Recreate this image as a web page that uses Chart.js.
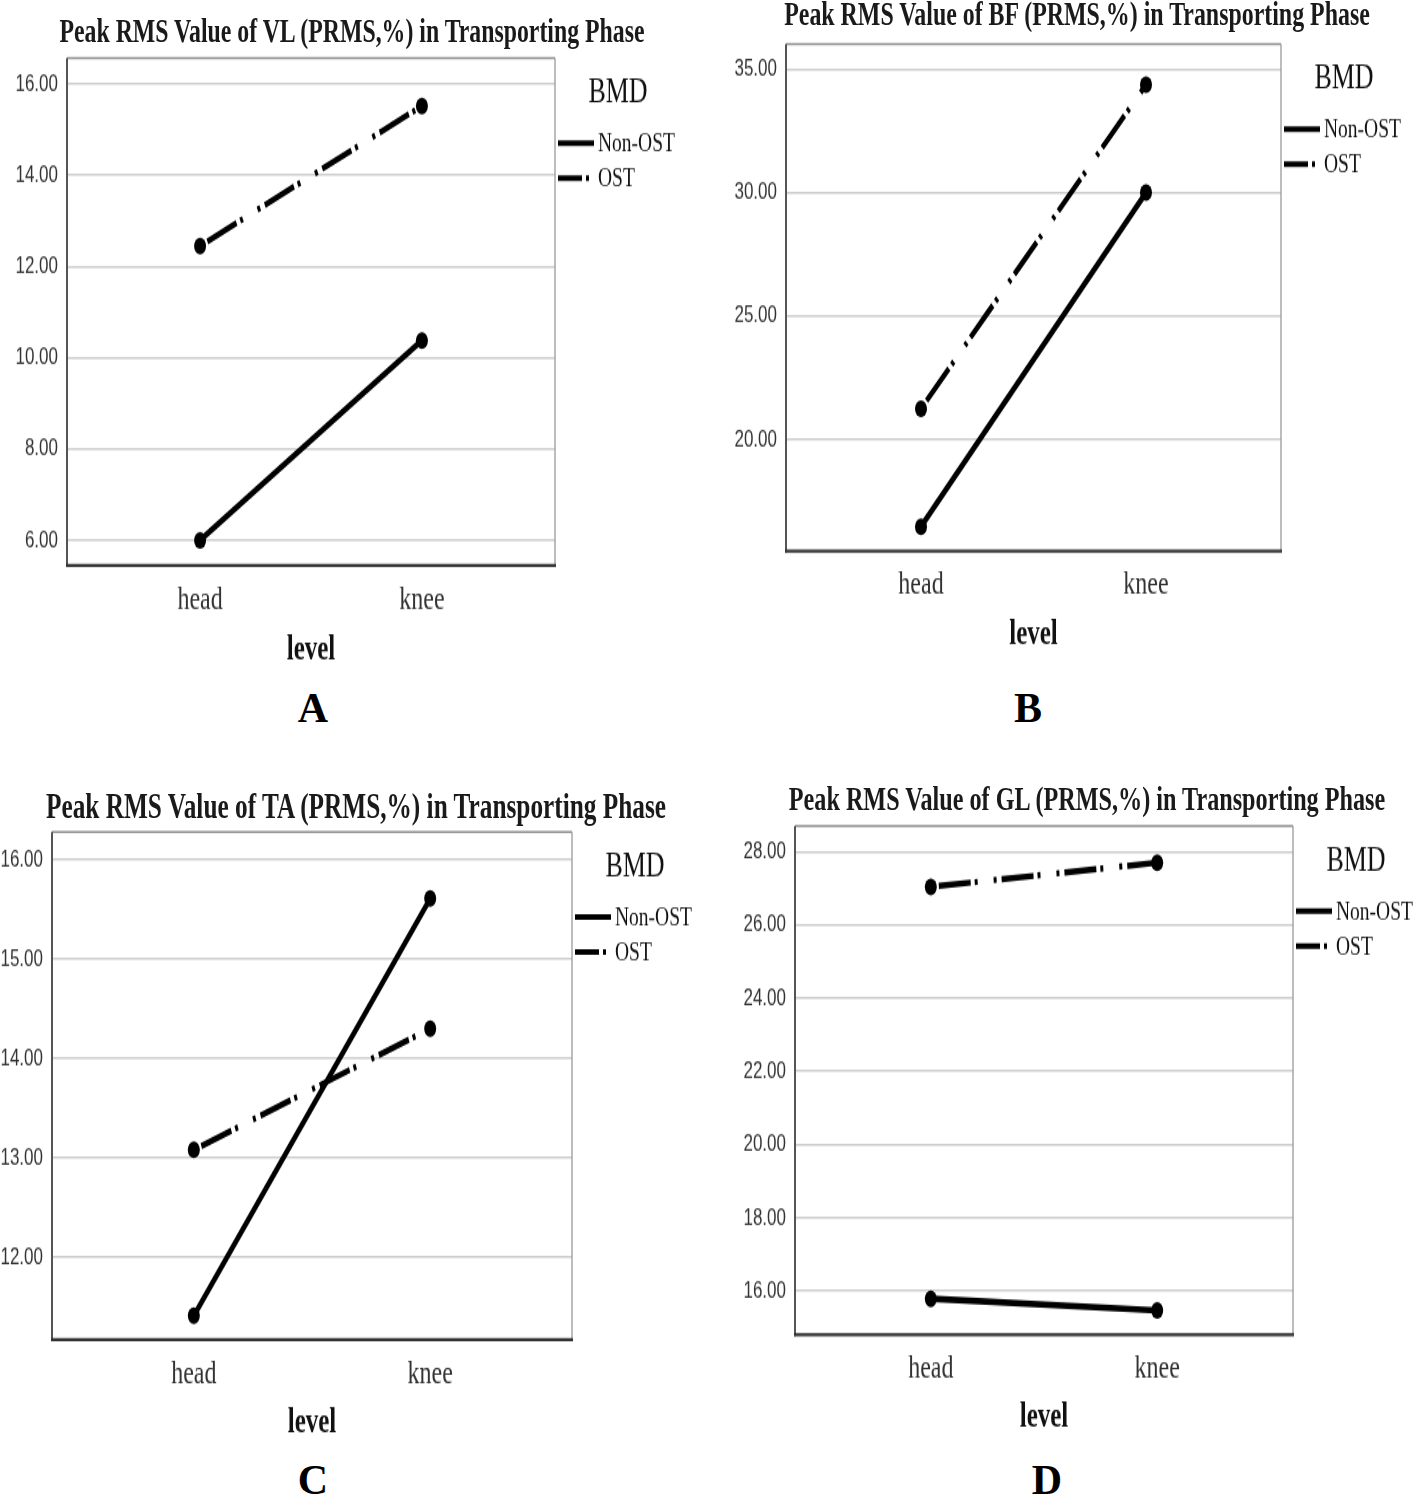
<!DOCTYPE html>
<html>
<head>
<meta charset="utf-8">
<script src="https://cdn.jsdelivr.net/npm/chart.js@4.4.0/dist/chart.umd.min.js"></script>
<style>
  body { margin: 0; background: #fff; }
  #page { position: relative; width: 1416px; height: 1500px; overflow: hidden; background: #fff; }
  .panel { position: absolute; transform-origin: 0 0; }
  .panel canvas { position: absolute; left: 0; top: 0; }
  .ttl { position: absolute; white-space: nowrap; font-family: 'Liberation Serif', serif; font-weight: bold; color: #1a1a1a; transform: translate(-50%, -50%); line-height: 1; }
  .letter { position: absolute; font-family: 'Liberation Serif', serif; font-weight: bold; font-size: 42px; color: #000; transform: translate(-50%, -50%); line-height: 1; }
</style>
</head>
<body>
<div id="page"></div>
<script>
// --- DATA ---
const levels = ['head', 'knee'];
const groups = ['Non-OST', 'OST'];

const vlNonOst = [6.00, 10.38];
const vlOst = [12.45, 15.52];
const vlTicks = [6, 8, 10, 12, 14, 16];

const bfNonOst = [16.46, 30.01];
const bfOst = [21.24, 34.39];
const bfTicks = [20, 25, 30, 35];

const taNonOst = [11.41, 15.61];
const taOst = [13.08, 14.30];
const taTicks = [12, 13, 14, 15, 16];

const glNonOst = [15.79, 15.47];
const glOst = [27.04, 27.70];
const glTicks = [16, 18, 20, 22, 24, 26, 28];

// the SPSS output is stretched vertically, so each panel is drawn flat and scaled in Y
const S = 1.4;

// --- LAYOUT (page pixels) ---
const panels = [
  { letter: 'A', title: 'Peak RMS Value of VL (PRMS,%) in Transporting Phase', nonOst: vlNonOst, ost: vlOst, ticks: vlTicks, yMin: 5.45, yMax: 16.57,
    box: { x: 0, y: 0, w: 700, h: 680 }, frame: { l: 67, t: 58, r: 555, b: 565 }, titleAt: [352, 32, 23.8], tickY: 600, levelY: 650, letterAt: [313, 708] },
  { letter: 'B', title: 'Peak RMS Value of BF (PRMS,%) in Transporting Phase', nonOst: bfNonOst, ost: bfOst, ticks: bfTicks, yMin: 15.47, yMax: 36.04,
    box: { x: 708, y: 0, w: 708, h: 665 }, frame: { l: 786, t: 44, r: 1281, b: 551 }, titleAt: [1077, 16, 23.9], tickY: 585, levelY: 635, letterAt: [1028, 708] },
  { letter: 'C', title: 'Peak RMS Value of TA (PRMS,%) in Transporting Phase', nonOst: taNonOst, ost: taOst, ticks: taTicks, yMin: 11.17, yMax: 16.28,
    box: { x: 0, y: 770, w: 708, h: 685 }, frame: { l: 52, t: 832, r: 572, b: 1340 }, titleAt: [356, 806, 25.3], tickY: 1375, levelY: 1424, letterAt: [313, 1480] },
  { letter: 'D', title: 'Peak RMS Value of GL (PRMS,%) in Transporting Phase', nonOst: glNonOst, ost: glOst, ticks: glTicks, yMin: 14.81, yMax: 28.70,
    box: { x: 708, y: 770, w: 708, h: 677 }, frame: { l: 795, t: 826, r: 1293, b: 1334 }, titleAt: [1087, 800, 24.2], tickY: 1368, levelY: 1417, letterAt: [1047, 1480] }
];

// plot frame: light top/right, dark left/bottom axis lines
const framePlugin = {
  id: 'frame',
  beforeDatasetsDraw(chart) {
    const { ctx, chartArea: { left, right, top, bottom } } = chart;
    const seg = (x1, y1, x2, y2, color, w) => {
      ctx.beginPath(); ctx.strokeStyle = color; ctx.lineWidth = w;
      ctx.moveTo(x1, y1); ctx.lineTo(x2, y2); ctx.stroke();
    };
    ctx.save();
    seg(left, top, right, top, '#8c8c8c', 1.4);
    seg(right, top, right, bottom, '#9a9a9a', 1.3);
    seg(left, top, left, bottom + 1, '#555', 2);
    seg(left - 1, bottom, right + 1, bottom, '#333', 2.2);
    ctx.restore();
  }
};

// BMD legend to the right of the frame
const legendPlugin = {
  id: 'bmdLegend',
  afterDraw(chart) {
    const { ctx, chartArea: { right, top } } = chart;
    ctx.save();
    ctx.fillStyle = '#111';
    ctx.textBaseline = 'middle';
    ctx.textAlign = 'center';
    ctx.font = '26px "Liberation Serif"';
    ctx.fillText('BMD', right + 63, top + 35 / S);
    ctx.textAlign = 'left';
    ctx.font = '19.5px "Liberation Serif"';
    chart.data.datasets.forEach((ds, i) => {
      const y = top + (85 + 35 * i) / S;
      ctx.beginPath();
      ctx.strokeStyle = '#000';
      ctx.lineWidth = 4;
      ctx.setLineDash(i === 0 ? [] : [24, 4, 3, 60]);
      ctx.moveTo(right + 3, y);
      ctx.lineTo(right + 39, y);
      ctx.stroke();
      ctx.setLineDash([]);
      ctx.fillText(ds.label, right + 43, y + 1);
    });
    ctx.restore();
  }
};

function makePanel(p) {
  const page = document.getElementById('page');
  const wrap = document.createElement('div');
  wrap.className = 'panel';
  const ch = Math.round(p.box.h / S);
  Object.assign(wrap.style, { left: p.box.x + 'px', top: p.box.y + 'px', width: p.box.w + 'px', height: ch + 'px', transform: `scaleY(${S})` });
  const cv = document.createElement('canvas');
  cv.width = p.box.w;
  cv.height = ch;
  wrap.appendChild(cv);

  const t = document.createElement('div');
  t.className = 'ttl';
  t.textContent = p.title;
  t.style.left = (p.titleAt[0] - p.box.x) + 'px';
  t.style.top = ((p.titleAt[1] - p.box.y) / S) + 'px';
  t.style.fontSize = p.titleAt[2] + 'px';
  wrap.appendChild(t);
  page.appendChild(wrap);

  const L = document.createElement('div');
  L.className = 'letter';
  L.textContent = p.letter;
  L.style.left = p.letterAt[0] + 'px';
  L.style.top = p.letterAt[1] + 'px';
  page.appendChild(L);

  const tickFont = 24, levelFont = 25;
  const bottomEdge = p.box.y + p.box.h;

  new Chart(cv, {
    type: 'line',
    data: {
      datasets: [
        { label: groups[0], data: p.nonOst.map((v, i) => ({ x: i, y: v })), borderColor: '#000', backgroundColor: '#000',
          borderWidth: 4.6, pointRadius: 6, pointHoverRadius: 6, pointBorderWidth: 0, pointBackgroundColor: '#000' },
        { label: groups[1], data: p.ost.map((v, i) => ({ x: i, y: v })), borderColor: '#000', backgroundColor: '#000',
          borderWidth: 4.4, borderDash: [3, 5, 32, 4, 3, 16], pointRadius: 6, pointHoverRadius: 6, pointBorderWidth: 0, pointBackgroundColor: '#000' }
      ]
    },
    options: {
      responsive: false,
      animation: false,
      events: [],
      layout: { padding: { top: (p.frame.t - p.box.y) / S, right: p.box.x + p.box.w - p.frame.r, left: 0, bottom: 0 } },
      plugins: { legend: { display: false }, tooltip: { enabled: false } },
      scales: {
        x: {
          type: 'linear', min: -0.6, max: 1.6,
          afterBuildTicks: s => { s.ticks = levels.map((_, i) => ({ value: i })); },
          afterFit: s => { s.height = (bottomEdge - p.frame.b) / S; },
          grid: { display: false, drawTicks: false },
          border: { display: false },
          ticks: {
            callback: v => levels[v],
            font: { family: 'Liberation Serif', size: tickFont },
            color: '#333',
            padding: (p.tickY - p.frame.b) / S - tickFont * 0.6,
            maxRotation: 0, autoSkip: false
          },
          title: {
            display: true, text: 'level', color: '#111',
            font: { family: 'Liberation Serif', size: levelFont, weight: 'bold' },
            padding: { top: 0, bottom: (bottomEdge - p.levelY) / S - levelFont * 0.6 }
          }
        },
        y: {
          min: p.yMin, max: p.yMax,
          afterBuildTicks: s => { s.ticks = p.ticks.map(v => ({ value: v })); },
          afterFit: s => { s.width = p.frame.l - p.box.x; },
          grid: { color: '#cdcdcd', lineWidth: 1.6, drawTicks: false },
          border: { display: false },
          ticks: {
            callback: v => v.toFixed(2),
            font: { family: 'Liberation Sans', size: 17 },
            color: '#333',
            padding: 9
          }
        }
      }
    },
    plugins: [framePlugin, legendPlugin]
  });
}

panels.forEach(makePanel);
</script>
</body>
</html>
